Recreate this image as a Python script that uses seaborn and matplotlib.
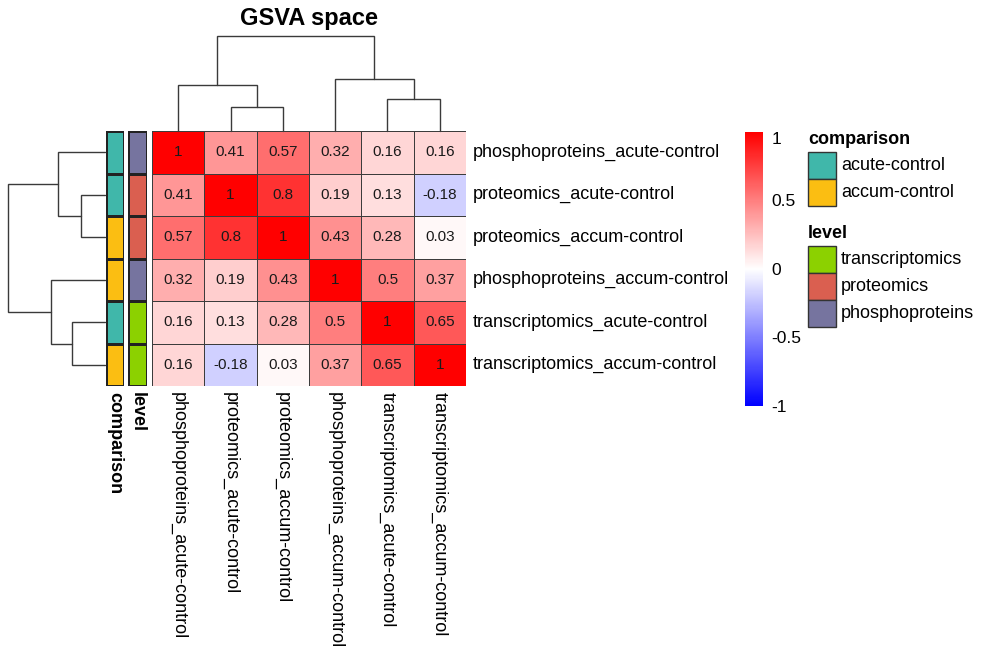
import numpy as np
import pandas as pd
import matplotlib
matplotlib.use("Agg")
import matplotlib.pyplot as plt
import seaborn as sns
from matplotlib.colors import ListedColormap, LinearSegmentedColormap
from matplotlib.patches import Rectangle

# ---- data -------------------------------------------------------------
samples = [
    "phosphoproteins_acute-control",
    "proteomics_acute-control",
    "proteomics_accum-control",
    "phosphoproteins_accum-control",
    "transcriptomics_acute-control",
    "transcriptomics_accum-control",
]
corr_values = [
    [1.00, 0.41, 0.57, 0.32, 0.16, 0.16],
    [0.41, 1.00, 0.80, 0.19, 0.13, -0.18],
    [0.57, 0.80, 1.00, 0.43, 0.28, 0.03],
    [0.32, 0.19, 0.43, 1.00, 0.50, 0.37],
    [0.16, 0.13, 0.28, 0.50, 1.00, 0.65],
    [0.16, -0.18, 0.03, 0.37, 0.65, 1.00],
]
comparison = ["acute-control", "acute-control", "accum-control",
              "accum-control", "acute-control", "accum-control"]
level = ["phosphoproteins", "proteomics", "proteomics",
         "phosphoproteins", "transcriptomics", "transcriptomics"]

comparison_levels = ["acute-control", "accum-control"]
comparison_colors = ["#40B7AA", "#FBBE12"]
level_levels = ["transcriptomics", "proteomics", "phosphoproteins"]
level_colors = ["#8CD100", "#DA5F50", "#76749F"]

# dendrogram topology (leaf indices in display order)
tree = ((0, (1, 2)), (3, (4, 5)))

cbar_ticks = [-1, -0.5, 0, 0.5, 1]
cbar_labels = ["-1", "-0.5", "0", "0.5", "1"]

title = "GSVA space"

# ---- styling ----------------------------------------------------------
sns.set_style("white")
plt.rcParams["font.family"] = ["Liberation Sans", "DejaVu Sans"]
plt.rcParams["text.color"] = "black"

W, H = 981, 649
fig = plt.figure(figsize=(W / 100, H / 100), dpi=100)


def px_axes(x0, y0, x1, y1, **kw):
    return fig.add_axes([x0 / W, 1 - y1 / H, (x1 - x0) / W, (y1 - y0) / H], **kw)


cmap = LinearSegmentedColormap.from_list("bwr3", ["#0000FF", "#FFFFFF", "#FF0000"], N=256)

# ---- heatmap ----------------------------------------------------------
corr = pd.DataFrame(corr_values, index=samples, columns=samples)
mat = corr.to_numpy()

HM_X0, HM_Y0, HM_X1, HM_Y1 = 152, 131, 466, 386

ax_hm = px_axes(HM_X0, HM_Y0, HM_X1, HM_Y1)
cax = px_axes(745, 132, 763, 406)

annot = np.array([[f"{v:g}" for v in row] for row in corr_values])
sns.heatmap(corr, ax=ax_hm, cmap=cmap, vmin=-1, vmax=1,
            annot=annot, fmt="", annot_kws={"color": "#1a1a1a", "fontsize": 11},
            linewidths=0.7, linecolor="#3c3c3c",
            cbar_ax=cax, cbar_kws={"ticks": cbar_ticks})

# row labels on the right
ax_hm.yaxis.tick_right()
ax_hm.set_yticklabels(samples, rotation=0, fontsize=13, va="center", color="black")
ax_hm.tick_params(axis="y", length=0, pad=5)
ax_hm.set_xticklabels(samples, rotation=270, fontsize=13, ha="center", va="top",
                      color="black")
ax_hm.tick_params(axis="x", length=0, pad=4)
ax_hm.set_xlabel("")
ax_hm.set_ylabel("")

# colour bar
cbar = ax_hm.collections[0].colorbar
cbar.outline.set_visible(False)
cax.set_yticks(cbar_ticks)
cax.set_yticklabels(cbar_labels, fontsize=12.5, color="black")
cax.tick_params(length=0, pad=6)
for lab in cax.get_yticklabels():
    if lab.get_text() == "1":
        lab.set_va("top")

# ---- row annotations --------------------------------------------------
def annotation_column(x0, x1, values, levels, colors, name):
    ax = px_axes(x0, HM_Y0, x1, HM_Y1)
    codes = pd.DataFrame({name: [levels.index(v) for v in values]})
    sns.heatmap(codes, ax=ax, cmap=ListedColormap(colors),
                vmin=-0.5, vmax=len(colors) - 0.5, cbar=False,
                linewidths=0.8, linecolor="#222222",
                xticklabels=[name], yticklabels=False)
    ax.set_xticklabels([name], rotation=270, fontsize=13, fontweight="bold",
                       ha="center", va="top", color="black")
    ax.tick_params(axis="x", length=0, pad=4)
    ax.set_ylabel("")
    return ax


annotation_column(106, 124, comparison, comparison_levels, comparison_colors, "comparison")
annotation_column(128, 146.5, level, level_levels, level_colors, "level")

# ---- dendrograms (complete linkage, Euclidean) ------------------------
def members(node):
    return [node] if isinstance(node, int) else members(node[0]) + members(node[1])


def merge_height(node):
    a, b = members(node[0]), members(node[1])
    return max(np.linalg.norm(mat[i] - mat[j]) for i in a for j in b)


def draw_tree(ax, node, orient):
    if isinstance(node, int):
        return node + 0.5, 0.0
    p1, h1 = draw_tree(ax, node[0], orient)
    p2, h2 = draw_tree(ax, node[1], orient)
    h = merge_height(node)
    xs, ys = [p1, p1, p2, p2], [h1, h, h, h2]
    if orient == "left":
        xs, ys = ys, xs
    ax.plot(xs, ys, color="#3a3a3a", lw=1.0, clip_on=False,
            solid_joinstyle="miter")
    return (p1 + p2) / 2, h


root_h = merge_height(tree)

ax_top = px_axes(HM_X0, 36, HM_X1, HM_Y0)
draw_tree(ax_top, tree, "top")
ax_top.set_xlim(0, len(samples))
ax_top.set_ylim(0, root_h)
ax_top.axis("off")

ax_left = px_axes(8, HM_Y0, 105, HM_Y1)
draw_tree(ax_left, tree, "left")
ax_left.set_xlim(root_h, 0)
ax_left.set_ylim(len(samples), 0)
ax_left.axis("off")

# ---- title and legends (pixel-coordinate overlay) ---------------------
ov = fig.add_axes([0, 0, 1, 1], facecolor="none")
ov.set_xlim(0, W)
ov.set_ylim(H, 0)
ov.axis("off")

ov.text(309, 18, title, ha="center", va="center", fontsize=17, fontweight="bold")


def legend_block(y_title, y_box0, labels, colors, name):
    ov.text(808, y_title, name, ha="left", va="center", fontsize=13, fontweight="bold")
    step = 27
    for k, (lab, col) in enumerate(zip(labels, colors)):
        y = y_box0 + k * step
        ov.add_patch(Rectangle((808, y), 28, step, facecolor=col,
                               edgecolor="#333333", lw=1.0))
        ov.text(841, y + step / 2, lab, ha="left", va="center", fontsize=13)


legend_block(140, 152, comparison_levels, comparison_colors, "comparison")
legend_block(233, 246, level_levels, level_colors, "level")

fig.savefig("out.png", dpi=100)
